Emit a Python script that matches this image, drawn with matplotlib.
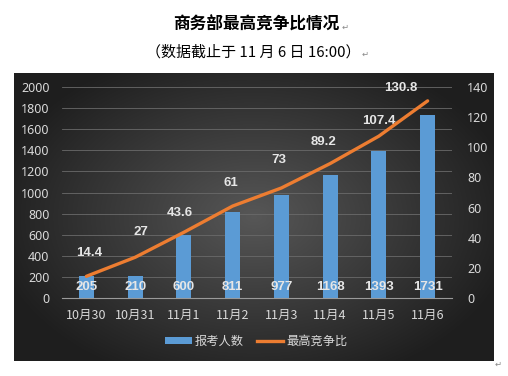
import numpy as np
import matplotlib
matplotlib.use("Agg")
import matplotlib.pyplot as plt
from matplotlib.patches import Patch
from matplotlib.lines import Line2D

categories = ["10月30", "10月31", "11月1", "11月2", "11月3", "11月4", "11月5", "11月6"]
applicants = [205, 210, 600, 811, 977, 1168, 1393, 1731]
ratio = [14.4, 27, 43.6, 61, 73, 89.2, 107.4, 130.8]
ratio_labels = ["14.4", "27", "43.6", "61", "73", "89.2", "107.4", "130.8"]
left_ticks = [0, 200, 400, 600, 800, 1000, 1200, 1400, 1600, 1800, 2000]
right_ticks = [0, 20, 40, 60, 80, 100, 120, 140]

# label offsets (pixels: dx, dy-up) for ratio labels
label_dx = [3, 6, -4, -2, -2, -7, 0, -27]
label_dy = [23, 25, 19, 23, 28, 22, 15, 13]

W, H = 508, 376
fig = plt.figure(figsize=(W / 100, H / 100), dpi=100)
fig.patch.set_facecolor("white")

cjk = ["Noto Sans CJK SC", "DejaVu Sans"]
num = ["Noto Sans", "Noto Sans CJK SC", "DejaVu Sans"]
bold_num = ["Liberation Sans", "DejaVu Sans"]

# Title & subtitle
fig.text(256 / W, 1 - 25 / H, "商务部最高竞争比情况", ha="center", va="center",
         fontsize=12, fontweight="bold", family=cjk, color="black")
fig.text(342 / W, 1 - 27 / H, "↵", ha="left", va="center", fontsize=6, color="#888888", family=cjk)
fig.text(253 / W, 1 - 52 / H, "（数据截止于 11 月 6 日 16:00）", ha="center", va="center",
         fontsize=10.8, family=cjk, color="black")
fig.text(362 / W, 1 - 54 / H, "↵", ha="left", va="center", fontsize=6, color="#888888", family=cjk)
fig.text(495 / W, 1 - 364 / H, "↵", ha="left", va="center", fontsize=6, color="#888888", family=cjk)

# Dark panel with radial gradient
px0, px1, py0, py1 = 14, 494, 73, 361
bg = fig.add_axes([px0 / W, 1 - py1 / H, (px1 - px0) / W, (py1 - py0) / H])
yy, xx = np.mgrid[-1:1:300j, -1:1:500j]
r = np.sqrt(xx ** 2 + (yy * 0.9) ** 2)
g = np.clip(0.34 - 0.2 * r, 0.12, 0.36)
bg.imshow(np.dstack([g, g, g]), aspect="auto", extent=[0, 1, 0, 1])
bg.set_axis_off()

# Main axes
ax_l, ax_r, ax_b, ax_t = 62, 452, 298, 87
ax = fig.add_axes([ax_l / W, 1 - ax_b / H, (ax_r - ax_l) / W, (ax_b - ax_t) / H])
ax.patch.set_alpha(0)
x = np.arange(len(categories))
ax.bar(x, applicants, width=0.31, color="#5b9bd5", zorder=2)
ax.set_xlim(-0.5, len(categories) - 0.5)
ax.set_ylim(0, 2000)
ax.set_yticks(left_ticks)
ax.set_yticklabels([str(t) for t in left_ticks], family=num, fontsize=9, color="#d9d9d9")
ax.set_xticks(x)
ax.set_xticklabels(categories, family=cjk, fontsize=9, color="#d9d9d9")
ax.tick_params(axis="y", length=0, pad=9)
ax.tick_params(axis="x", length=0, pad=8)
ax.grid(axis="y", color="#6a6a6a", linewidth=0.6, zorder=0)
for s in ["top", "left", "right"]:
    ax.spines[s].set_visible(False)
ax.spines["bottom"].set_color("#9a9a9a")
ax.spines["bottom"].set_linewidth(0.8)
for xi, v in zip(x, applicants):
    ax.text(xi, 45, str(v), ha="center", va="bottom", fontsize=9.5, fontweight="bold",
            family=bold_num, color="#e6e6e6", zorder=5)

ax2 = ax.twinx()
ax2.set_ylim(0, 140)
ax2.plot(x, ratio, color="#ed7d31", linewidth=2.4, solid_capstyle="round", zorder=4)
ax2.set_yticks(right_ticks)
ax2.set_yticklabels([str(t) for t in right_ticks], family=num, fontsize=9, color="#d9d9d9")
ax2.tick_params(axis="y", length=0, pad=11)
for s in ["top", "left", "right", "bottom"]:
    ax2.spines[s].set_visible(False)
for xi, v, lab, dx, dy in zip(x, ratio, ratio_labels, label_dx, label_dy):
    ax2.annotate(lab, (xi, v), xytext=(dx * 0.72, dy * 0.72), textcoords="offset points",
                 ha="center", va="center", fontsize=9.5, fontweight="bold",
                 family=bold_num, color="#e6e6e6")

# Legend
handles = [Patch(facecolor="#5b9bd5", edgecolor="none"),
           Line2D([0], [0], color="#ed7d31", linewidth=2.4)]
leg = fig.legend(handles, ["报考人数", "最高竞争比"], loc="center",
                 bbox_to_anchor=(256 / W, 1 - 341 / H), ncol=2, frameon=False,
                 prop={"family": cjk, "size": 8.8}, handlelength=2.2, handleheight=0.5,
                 columnspacing=1.1, handletextpad=0.2)
for t in leg.get_texts():
    t.set_color("#d9d9d9")

fig.savefig("out.png", dpi=100, facecolor="white")
